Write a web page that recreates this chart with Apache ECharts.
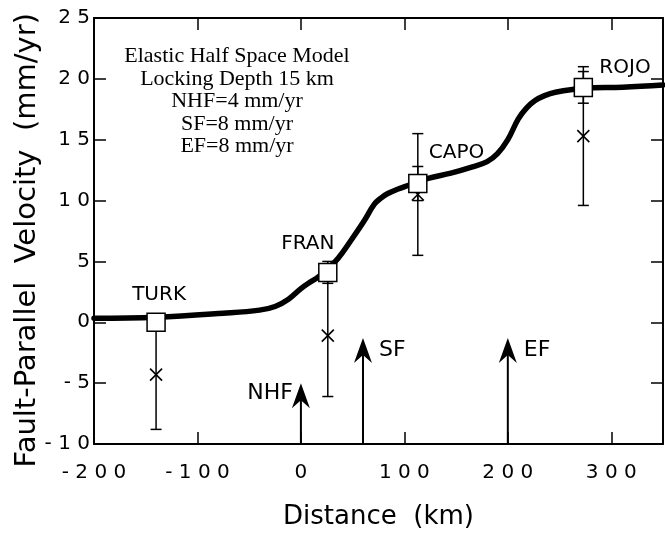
<!DOCTYPE html>
<html>
<head>
<meta charset="utf-8">
<script src="https://cdn.jsdelivr.net/npm/echarts@6/dist/echarts.min.js"></script>
<style>html,body{margin:0;padding:0;background:#fff;}#c{width:665px;height:534px;}</style>
</head>
<body>
<div id="c"></div>
<script>
// ---- data ----
const sites = ['TURK', 'FRAN', 'CAPO', 'ROJO'];
const siteX = [-140, 26, 113, 273];
const squareV = [0, 4.1, 11.4, 19.3];
const squareErr = [0.5, 0.9, 1.4, 1.3];
const crossV = [-4.3, -1.1, 10.5, 15.3];
const crossErr = [4.5, 5.0, 5.0, 5.7];
const curveX = [-200, -140, -75, -40, -25, -12, 0, 8, 16.5, 26, 36, 48.5, 61.5, 71, 78, 84, 94, 104, 123, 145, 165, 180, 190, 200, 210, 218, 226, 235, 246, 273, 311, 350];
const curveY = [0.33, 0.41, 0.74, 1.0, 1.3, 1.9, 2.77, 3.25, 3.7, 4.4, 5.26, 6.74, 8.38, 9.7, 10.25, 10.58, 10.95, 11.26, 11.83, 12.25, 12.74, 13.2, 13.85, 15.0, 16.7, 17.6, 18.2, 18.6, 18.9, 19.23, 19.32, 19.5];
const faultNames = ['NHF', 'SF', 'EF'];
const faultX = [0, 60, 200];
const faultTip = [-5, -1.3, -1.3];
const xTicks = [-200, -100, 0, 100, 200, 300];
const yTicks = [-10, -5, 0, 5, 10, 15, 20, 25];
const boxLines = ['Elastic Half Space Model', 'Locking Depth 15 km', 'NHF=4 mm/yr', 'SF=8 mm/yr', 'EF=8 mm/yr'];

const chart = echarts.init(document.getElementById('c'), null, {renderer: 'canvas'});
const sans = '"DejaVu Sans", sans-serif';
const spaced = v => String(v).split('').join(' ');

const axisCommon = {
  axisLine: {show: true, onZero: false, lineStyle: {color: '#000', width: 2}},
  axisTick: {show: true, inside: true, length: 12, lineStyle: {color: '#000', width: 1.5}},
  splitLine: {show: false}
};

const labelCfg = [
  {align: 'center', offset: [3, -27]},
  {align: 'center', offset: [-20, -29]},
  {align: 'left', offset: [11, -31]},
  {align: 'left', offset: [16, -20]}
];

const option = {
  animation: false,
  backgroundColor: '#fff',
  title: {
    text: boxLines.join('\n'),
    left: 232, top: 40, textAlign: 'center',
    textStyle: {fontFamily: '"Liberation Serif", serif', fontSize: 22, fontWeight: 'normal', lineHeight: 22.5, color: '#000'}
  },
  grid: {left: 94, right: 2, top: 18, bottom: 90, outerBoundsMode: 'none', containLabel: false},
  xAxis: [
    Object.assign({
      type: 'value', min: -200, max: 350, interval: 100, position: 'bottom',
      name: 'Distance  (km)', nameLocation: 'middle', nameGap: 60,
      nameTextStyle: {fontFamily: sans, fontSize: 26, color: '#000'},
      axisLabel: {fontFamily: sans, fontSize: 20, color: '#000', margin: 19,
        formatter: v => xTicks.indexOf(v) >= 0 ? spaced(v) : ''}
    }, axisCommon),
    Object.assign({
      type: 'value', min: -200, max: 350, interval: 100, position: 'top',
      axisLabel: {show: false}
    }, axisCommon)
  ],
  yAxis: [
    Object.assign({
      type: 'value', min: -10, max: 25, interval: 5, position: 'left',
      name: 'Fault-Parallel  Velocity  (mm/yr)  ', nameLocation: 'middle', nameGap: 52,
      nameMoveOverlap: false,
      nameTextStyle: {fontFamily: sans, fontSize: 29, color: '#000'},
      axisLabel: {fontFamily: sans, fontSize: 20, color: '#000', margin: 4,
        formatter: v => yTicks.indexOf(v) >= 0 ? spaced(v) : ''}
    }, axisCommon),
    Object.assign({
      type: 'value', min: -10, max: 25, interval: 5, position: 'right',
      axisLabel: {show: false}
    }, axisCommon)
  ],
  series: [
    { // fault arrows
      type: 'custom', z: 3,
      data: faultX.map((x, i) => [x, faultTip[i], i]),
      renderItem: (params, api) => {
        const x = api.value(0), tip = api.value(1), i = api.value(2);
        const p0 = api.coord([x, -10]);
        const p1 = api.coord([x, tip]);
        const left = i === 0;
        return {
          type: 'group',
          children: [
            {type: 'line', shape: {x1: p0[0], y1: p0[1], x2: p1[0], y2: p1[1] + 10}, style: {stroke: '#000', lineWidth: 2}},
            {type: 'polygon', shape: {points: [[p1[0], p1[1]], [p1[0] + 9, p1[1] + 25], [p1[0], p1[1] + 17], [p1[0] - 9, p1[1] + 25]]}, style: {fill: '#000'}},
            {type: 'text', style: {text: faultNames[i], x: left ? p1[0] - 8 : p1[0] + 16, y: left ? p1[1] + 10 : p1[1] + 12,
              align: left ? 'right' : 'left', verticalAlign: 'middle', font: '22px ' + sans, fill: '#000'}}
          ]
        };
      }
    },
    { // error bars (cross)
      type: 'custom', z: 3,
      data: siteX.map((x, i) => [x, crossV[i] - crossErr[i], crossV[i] + crossErr[i]]),
      renderItem: (params, api) => errBar(api)
    },
    { // error bars (square)
      type: 'custom', z: 3,
      data: siteX.map((x, i) => [x, squareV[i] - squareErr[i], squareV[i] + squareErr[i]]),
      renderItem: (params, api) => errBar(api)
    },
    { // model curve
      type: 'line', z: 4, showSymbol: false, smooth: 0.4,
      data: curveX.map((x, i) => [x, curveY[i]]),
      lineStyle: {color: '#000', width: 5.5, join: 'round', cap: 'round'}
    },
    { // crosses
      type: 'custom', z: 5,
      data: siteX.map((x, i) => [x, crossV[i]]),
      renderItem: (params, api) => {
        const p = api.coord([api.value(0), api.value(1)]);
        const s = 6;
        return {type: 'group', children: [
          {type: 'line', shape: {x1: p[0] - s, y1: p[1] - s, x2: p[0] + s, y2: p[1] + s}, style: {stroke: '#000', lineWidth: 1.6}},
          {type: 'line', shape: {x1: p[0] - s, y1: p[1] + s, x2: p[0] + s, y2: p[1] - s}, style: {stroke: '#000', lineWidth: 1.6}}
        ]};
      }
    },
    { // squares with site labels
      type: 'scatter', z: 6, symbol: 'rect', symbolSize: 18,
      itemStyle: {color: '#fff', borderColor: '#000', borderWidth: 1.5, opacity: 1},
      data: siteX.map((x, i) => ({
        value: [x, squareV[i]],
        label: {show: true, position: 'inside', formatter: sites[i], align: labelCfg[i].align, verticalAlign: 'middle',
          offset: labelCfg[i].offset, fontFamily: sans, fontSize: 20, color: '#000'}
      }))
    }
  ]
};

function errBar(api) {
  const x = api.value(0);
  const a = api.coord([x, api.value(1)]);
  const b = api.coord([x, api.value(2)]);
  const w = 5.5;
  return {type: 'group', children: [
    {type: 'line', shape: {x1: a[0], y1: a[1], x2: b[0], y2: b[1]}, style: {stroke: '#000', lineWidth: 1.5}},
    {type: 'line', shape: {x1: a[0] - w, y1: a[1], x2: a[0] + w, y2: a[1]}, style: {stroke: '#000', lineWidth: 1.5}},
    {type: 'line', shape: {x1: b[0] - w, y1: b[1], x2: b[0] + w, y2: b[1]}, style: {stroke: '#000', lineWidth: 1.5}}
  ]};
}

chart.setOption(option);
</script>
</body>
</html>
